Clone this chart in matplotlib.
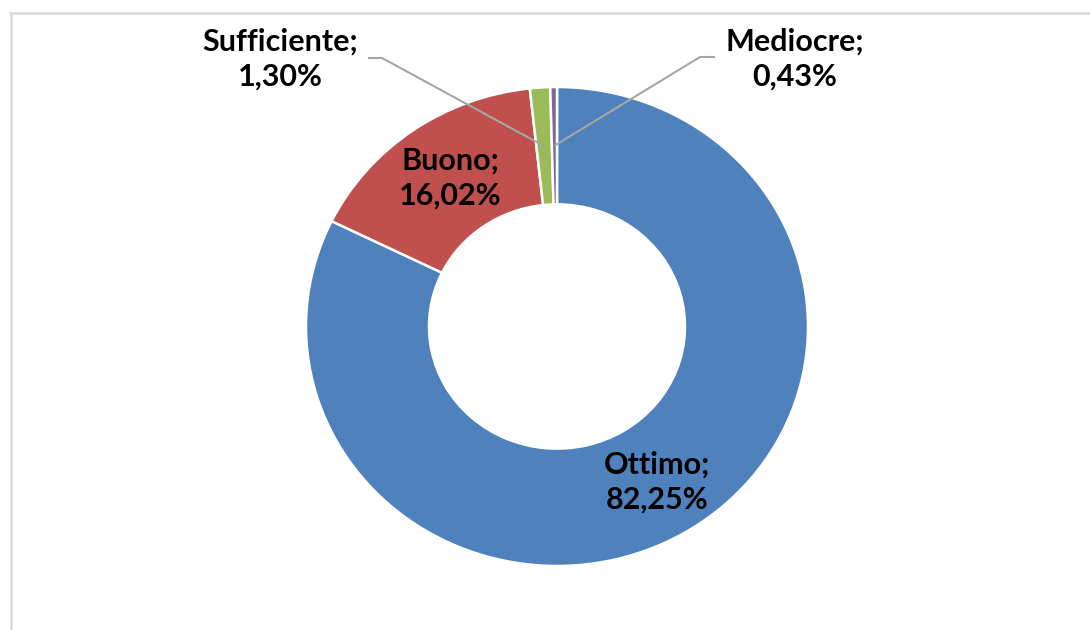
import matplotlib
matplotlib.use("Agg")
import matplotlib.pyplot as plt
from matplotlib.lines import Line2D
import numpy as np

categories = ["Ottimo", "Buono", "Sufficiente", "Mediocre"]
values = [82.25, 16.02, 1.30, 0.43]
labels = ["82,25%", "16,02%", "1,30%", "0,43%"]
colors = ["#4F81BD", "#C0504D", "#9BBB59", "#8064A2"]

plt.rcParams["font.family"] = ["Lato", "DejaVu Sans"]

W, H = 1090, 630
fig = plt.figure(figsize=(W / 100, H / 100), dpi=100)
ax = fig.add_axes([0, 0, 1, 1])

wedges, _ = ax.pie(values, startangle=90, counterclock=False, radius=1,
                   colors=colors,
                   wedgeprops=dict(width=0.49, edgecolor="white", linewidth=1.8))

# pixel geometry of the ring (slightly wider than tall, like the original)
cx, cy, rx, ry = 557, 326.5, 251, 239.5
ax.set_aspect("auto")
ax.set_xlim(-cx / rx, (W - cx) / rx)
ax.set_ylim(-(H - cy) / ry, cy / ry)
ax.axis("off")

def px(x, y):
    return (x - cx) / rx, (cy - y) / ry

txt = dict(ha="center", va="center", fontsize=22, fontweight="bold",
           color="black", linespacing=1.28)

def mid(w, r=0.755):
    a = np.deg2rad((w.theta1 + w.theta2) / 2)
    return r * np.cos(a), r * np.sin(a)

# labels inside the ring
ax.text(*px(450, 178), f"{categories[1]};\n{labels[1]}", **txt)
ax.text(*px(657, 482), f"{categories[0]};\n{labels[0]}", **txt)

# outside labels with leader lines
ax.text(*px(280, 59), f"{categories[2]};\n{labels[2]}", **txt)
ax.text(*px(795, 59), f"{categories[3]};\n{labels[3]}", **txt)

lc = "#A6A6A6"
for w, elbow, end in [(wedges[2], px(382, 58), px(368, 58)),
                      (wedges[3], px(700, 57), px(715, 57))]:
    m = mid(w)
    ax.plot([m[0], elbow[0], end[0]], [m[1], elbow[1], end[1]],
            color=lc, lw=1.5, solid_capstyle="butt")

# partial chart frame (top and left edges)
fig.add_artist(Line2D([10 / W, 1], [1 - 13 / H, 1 - 13 / H], color="#D9D9D9", lw=1.8))
fig.add_artist(Line2D([11 / W, 11 / W], [0, 1 - 13 / H], color="#D9D9D9", lw=1.8))

fig.savefig("out.png", dpi=100)
